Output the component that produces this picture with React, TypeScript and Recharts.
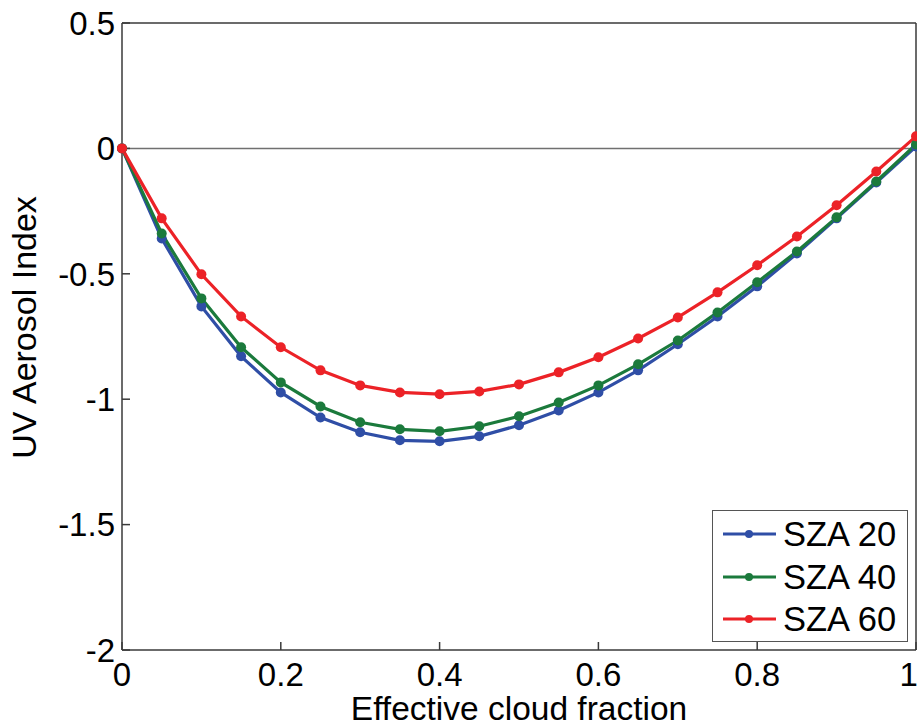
import React from 'react';
import {
  LineChart,
  Line,
  XAxis,
  YAxis,
  ReferenceLine,
  Legend,
} from 'recharts';

const cloudFraction = [
  0, 0.05, 0.1, 0.15, 0.2, 0.25, 0.3, 0.35, 0.4, 0.45, 0.5,
  0.55, 0.6, 0.65, 0.7, 0.75, 0.8, 0.85, 0.9, 0.95, 1,
];

const sza20 = [
  0, -0.359, -0.63, -0.829, -0.973, -1.073, -1.132, -1.164, -1.168, -1.148, -1.104,
  -1.045, -0.973, -0.885, -0.781, -0.67, -0.55, -0.419, -0.279, -0.136, 0.008,
];

const sza40 = [
  0, -0.339, -0.598, -0.793, -0.933, -1.029, -1.092, -1.12, -1.128, -1.108, -1.068,
  -1.013, -0.945, -0.861, -0.766, -0.654, -0.534, -0.411, -0.275, -0.132, 0.016,
];

const sza60 = [
  0, -0.279, -0.502, -0.67, -0.793, -0.885, -0.945, -0.973, -0.98, -0.969, -0.941,
  -0.893, -0.833, -0.758, -0.674, -0.574, -0.466, -0.351, -0.227, -0.092, 0.048,
];

const xTicks = [0, 0.2, 0.4, 0.6, 0.8, 1];
const yTicks = [0.5, 0, -0.5, -1, -1.5, -2];

const series = [
  { key: 'sza20', name: 'SZA 20', color: '#2f4ea6' },
  { key: 'sza40', name: 'SZA 40', color: '#1b7a3c' },
  { key: 'sza60', name: 'SZA 60', color: '#ec2227' },
];

const data = cloudFraction.map((cf, i) => ({
  cf,
  sza20: sza20[i],
  sza40: sza40[i],
  sza60: sza60[i],
}));

const FONT = '"Liberation Sans", Arial, sans-serif';
const AXIS = '#3a3a3a';

const LegendBox = () => (
  <div
    style={{
      border: '1.5px solid #555',
      background: '#fff',
      width: 196,
      height: 132,
      boxSizing: 'border-box',
      paddingTop: 2,
      fontFamily: FONT,
    }}
  >
    {series.map((s) => (
      <div key={s.key} style={{ display: 'flex', alignItems: 'center', height: 42.5 }}>
        <svg width={68} height={20} style={{ marginLeft: 10 }}>
          <line x1={0} y1={10} x2={53} y2={10} stroke={s.color} strokeWidth={3} />
          <circle cx={26} cy={10} r={4} fill={s.color} />
        </svg>
        <span style={{ fontSize: 34.5, color: '#000', marginLeft: -8, lineHeight: 1 }}>{s.name}</span>
      </div>
    ))}
  </div>
);

const YLabel = ({ viewBox }: any) => {
  const cx = viewBox.x + 24;
  const cy = viewBox.y + viewBox.height / 2 - 9;
  return (
    <text
      x={cx}
      y={cy}
      transform={`rotate(-90, ${cx}, ${cy})`}
      textAnchor="middle"
      dominantBaseline="central"
      fontSize={34}
      fontFamily={FONT}
      fill="#000"
    >
      UV Aerosol Index
    </text>
  );
};

const App = () => {
  return (
    <div style={{ position: 'absolute', left: 0, top: 0, background: '#fff' }}>
      <LineChart
        width={917}
        height={726}
        data={data}
        margin={{ top: 22, right: 0, left: 0, bottom: 0 }}
      >
        <XAxis
          xAxisId="b"
          dataKey="cf"
          type="number"
          domain={[0, 1]}
          ticks={xTicks}
          height={76}
          stroke={AXIS}
          strokeWidth={1.5}
          tickSize={-8}
          tickMargin={21}
          tick={{ fill: '#000', fontSize: 33, fontFamily: FONT }}
          label={{
            value: 'Effective cloud fraction',
            position: 'insideBottom',
            offset: 6,
            fill: '#000',
            fontSize: 33.5,
            fontFamily: FONT,
          }}
        />
        <XAxis
          xAxisId="t"
          dataKey="cf"
          type="number"
          orientation="top"
          domain={[0, 1]}
          ticks={xTicks}
          height={1}
          stroke={AXIS}
          strokeWidth={1.5}
          tickSize={-8}
          tick={false}
        />
        <YAxis
          yAxisId="l"
          type="number"
          domain={[-2, 0.5]}
          ticks={yTicks}
          width={122}
          stroke={AXIS}
          strokeWidth={1.5}
          tickSize={-8}
          tickMargin={15}
          tick={{ fill: '#000', fontSize: 33, fontFamily: FONT }}
          label={<YLabel />}
        />
        <YAxis
          yAxisId="r"
          type="number"
          orientation="right"
          domain={[-2, 0.5]}
          ticks={yTicks}
          width={1}
          stroke={AXIS}
          strokeWidth={1.5}
          tickSize={-8}
          tick={false}
        />
        <ReferenceLine xAxisId="b" yAxisId="l" y={0} stroke="#707070" strokeWidth={1.5} />
        {series.map((s) => (
          <Line
            key={s.key}
            xAxisId="b"
            yAxisId="l"
            type="linear"
            dataKey={s.key}
            name={s.name}
            stroke={s.color}
            strokeWidth={3.2}
            dot={{ r: 5, fill: s.color, stroke: s.color, strokeWidth: 0 }}
            activeDot={false}
            isAnimationActive={false}
          />
        ))}
        <Legend
          layout="horizontal"
          verticalAlign="middle"
          align="center"
          content={<LegendBox />}
          wrapperStyle={{ position: 'absolute', left: 712, top: 510, width: 196, height: 132 }}
        />
      </LineChart>
    </div>
  );
};

export default App;
